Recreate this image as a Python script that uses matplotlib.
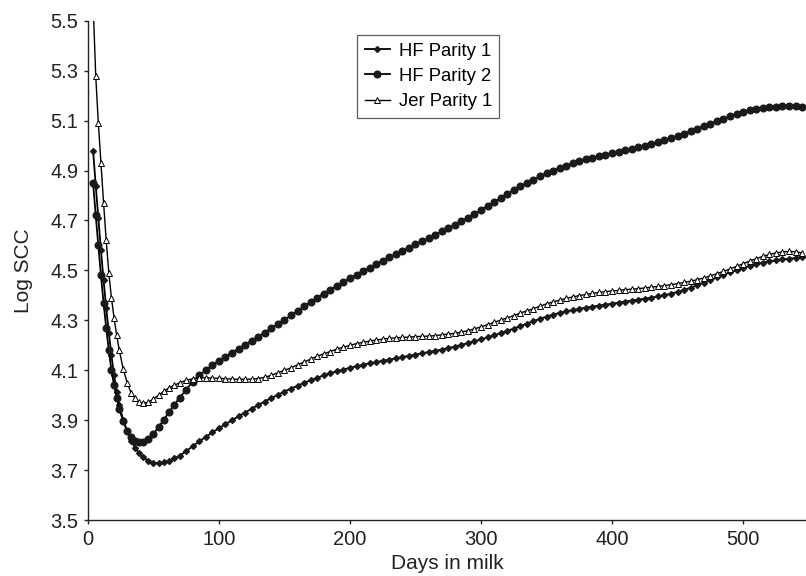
import matplotlib
matplotlib.use("Agg")
import matplotlib.pyplot as plt

# days in milk at which the curves were evaluated
days = [4, 6, 8, 10, 12, 14, 16, 18, 20, 22, 24,
        27, 30, 33, 36, 39, 42,
        46, 50, 54, 58, 62, 66, 70,
        75, 80, 85, 90, 95, 100, 105, 110, 115, 120,
        125, 130, 135, 140, 145, 150, 155, 160, 165, 170,
        175, 180, 185, 190, 195, 200, 205, 210, 215, 220,
        225, 230, 235, 240, 245, 250, 255, 260, 265, 270,
        275, 280, 285, 290, 295, 300, 305, 310, 315, 320,
        325, 330, 335, 340, 345, 350, 355, 360, 365, 370,
        375, 380, 385, 390, 395, 400, 405, 410, 415, 420,
        425, 430, 435, 440, 445, 450, 455, 460, 465, 470,
        475, 480, 485, 490, 495, 500, 505, 510, 515, 520,
        525, 530, 535, 540, 545]

hf_parity1 = [4.98, 4.84, 4.71, 4.58, 4.46, 4.35, 4.25, 4.16, 4.08, 4.015, 3.96,
              3.90, 3.855, 3.818, 3.79, 3.768, 3.752,
              3.738, 3.73, 3.728, 3.731, 3.738, 3.747, 3.758,
              3.776, 3.796, 3.815, 3.833, 3.851, 3.868, 3.884, 3.9, 3.916, 3.931,
              3.946, 3.961, 3.975, 3.989, 4.002, 4.015, 4.027, 4.038, 4.05, 4.06,
              4.07, 4.08, 4.088, 4.096, 4.103, 4.11, 4.116, 4.122, 4.128, 4.133,
              4.138, 4.143, 4.148, 4.153, 4.158, 4.163, 4.168, 4.173, 4.178, 4.183,
              4.189, 4.195, 4.202, 4.209, 4.216, 4.224, 4.232, 4.24, 4.249, 4.258,
              4.267, 4.277, 4.287, 4.297, 4.306, 4.315, 4.323, 4.33, 4.336, 4.341,
              4.346, 4.351, 4.355, 4.359, 4.363, 4.367, 4.371, 4.375, 4.379, 4.383,
              4.387, 4.391, 4.396, 4.401, 4.407, 4.414, 4.422, 4.431, 4.441, 4.451,
              4.461, 4.472, 4.482, 4.492, 4.501, 4.51, 4.518, 4.525, 4.531, 4.536,
              4.54, 4.544, 4.547, 4.55, 4.553]

hf_parity2 = [4.85, 4.72, 4.60, 4.48, 4.37, 4.27, 4.18, 4.10, 4.04, 3.99, 3.945,
              3.895, 3.858, 3.833, 3.818, 3.811, 3.812,
              3.824, 3.845, 3.873, 3.903, 3.933, 3.962, 3.99,
              4.022, 4.055, 4.08, 4.1, 4.12, 4.138, 4.155, 4.171, 4.187, 4.203,
              4.219, 4.235, 4.251, 4.268, 4.285, 4.302, 4.32, 4.338, 4.356, 4.374,
              4.391, 4.407, 4.423, 4.438, 4.453, 4.468, 4.483, 4.497, 4.511, 4.525,
              4.539, 4.552, 4.565, 4.578, 4.591, 4.604, 4.617, 4.63, 4.643, 4.656,
              4.669, 4.683, 4.697, 4.711, 4.726, 4.742, 4.758, 4.774, 4.79, 4.806,
              4.822, 4.837, 4.851, 4.864, 4.877, 4.889, 4.9, 4.91, 4.92, 4.929,
              4.937, 4.945, 4.952, 4.958, 4.964, 4.97, 4.976, 4.982, 4.988, 4.994,
              5.0, 5.007, 5.014, 5.022, 5.03, 5.039, 5.048, 5.058, 5.068, 5.078,
              5.088, 5.098, 5.108, 5.117, 5.126, 5.134, 5.141, 5.147, 5.151, 5.154,
              5.156, 5.157, 5.157, 5.157, 5.156]

jer_parity1 = [5.57, 5.28, 5.09, 4.93, 4.77, 4.62, 4.49, 4.39, 4.31, 4.24, 4.18,
               4.105, 4.05, 4.01, 3.988, 3.974, 3.968,
               3.972, 3.985, 4.0, 4.016, 4.03, 4.04, 4.05,
               4.06, 4.066, 4.07, 4.07, 4.069, 4.068, 4.066, 4.065, 4.064, 4.064,
               4.065, 4.067, 4.072, 4.08, 4.09, 4.1, 4.11, 4.122, 4.133, 4.145,
               4.156, 4.166, 4.175, 4.185, 4.193, 4.2, 4.207, 4.212, 4.217, 4.221,
               4.225, 4.228, 4.23, 4.232, 4.233, 4.235, 4.236, 4.237, 4.239, 4.242,
               4.245, 4.248, 4.253, 4.259, 4.266, 4.274, 4.283, 4.292, 4.301, 4.31,
               4.319, 4.329, 4.338, 4.347, 4.357, 4.366, 4.374, 4.381, 4.388, 4.394,
               4.399, 4.404, 4.408, 4.412, 4.415, 4.418, 4.42, 4.423, 4.425, 4.427,
               4.43, 4.433, 4.436, 4.439, 4.443, 4.447, 4.452, 4.457, 4.463, 4.47,
               4.478, 4.487, 4.496, 4.506, 4.516, 4.527, 4.537, 4.547, 4.556, 4.564,
               4.57, 4.574, 4.576, 4.575, 4.57]

y_ticks = [3.5, 3.7, 3.9, 4.1, 4.3, 4.5, 4.7, 4.9, 5.1, 5.3, 5.5]
x_ticks = [0, 100, 200, 300, 400, 500]

plt.rcParams["font.family"] = ["Liberation Sans", "DejaVu Sans"]

fig = plt.figure(figsize=(8.06, 5.76), dpi=100)
ax = fig.add_axes([0.109, 0.097, 0.891, 0.867])

ax.plot(days, hf_parity1, color="black", lw=1.3, marker="D", ms=3.0,
        mfc="#1a1a1a", mec="#1a1a1a", label="HF Parity 1", zorder=3)
ax.plot(days, hf_parity2, color="black", lw=1.3, marker="o", ms=4.8,
        mfc="#1a1a1a", mec="#1a1a1a", label="HF Parity 2", zorder=3)
ax.plot(days, jer_parity1, color="black", lw=1.0, marker="^", ms=4.6,
        mfc="white", mec="black", mew=0.7, label="Jer Parity 1", zorder=4)

ax.set_xlim(0, 548)
ax.set_ylim(3.5, 5.5)
ax.set_xticks(x_ticks)
ax.set_yticks(y_ticks)
ax.set_yticklabels([f"{v:.1f}" for v in y_ticks])

for side in ("top", "right"):
    ax.spines[side].set_visible(False)
for side in ("left", "bottom"):
    ax.spines[side].set_color("#222222")
    ax.spines[side].set_linewidth(1.0)

ax.tick_params(direction="out", length=3, width=1.0, colors="#222222",
               labelsize=14.5, labelcolor="#222222", pad=4)
ax.set_xlabel("Days in milk", fontsize=15, color="#222222", labelpad=4)
ax.set_ylabel("Log SCC", fontsize=15, color="#222222", labelpad=12)

leg = ax.legend(loc="upper left", bbox_to_anchor=(0.375, 0.971), fontsize=13.3,
                frameon=True, fancybox=False, edgecolor="#333333",
                handlelength=1.4, handletextpad=0.45, borderpad=0.4,
                labelspacing=0.45, borderaxespad=0)
leg.get_frame().set_linewidth(0.9)

fig.savefig("out.png", dpi=100)
